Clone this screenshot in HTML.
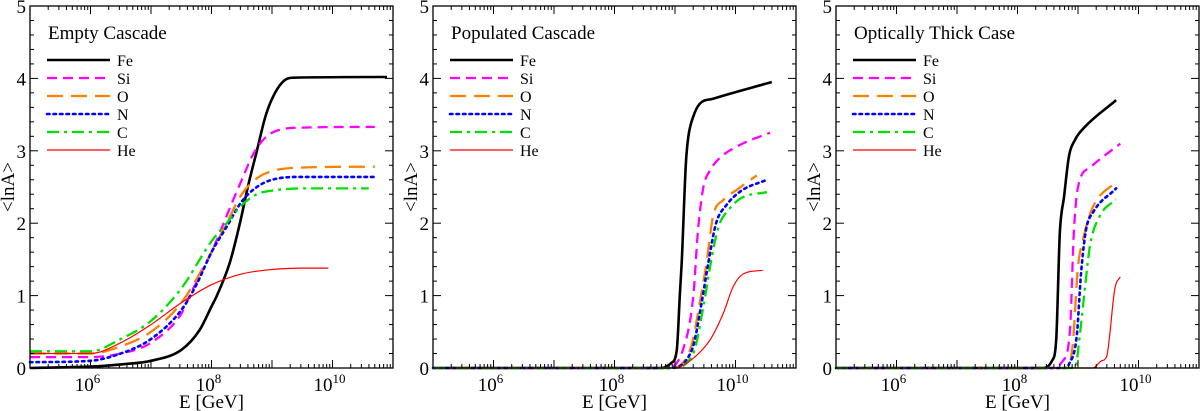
<!DOCTYPE html>
<html><head><meta charset="utf-8"><style>
body{margin:0;background:#fff;}
svg{display:block;font-family:"Liberation Serif",serif;}
</style></head><body>
<svg id="chart" width="1200" height="411" viewBox="0 0 1200 411" xmlns="http://www.w3.org/2000/svg"></svg>
<script>
// ---- data (x = log10 E[GeV], y = <lnA>) ----
const titles = ["Empty Cascade", "Populated Cascade", "Optically Thick Case"];
const species = ["Fe", "Si", "O", "N", "C", "He"];
const yTicks = [0, 1, 2, 3, 4, 5];
const xTickExps = [6, 8, 10];

const emptyFeX = [5, 6, 6.5, 7, 7.5, 7.8, 8, 8.09, 8.3, 8.47, 8.6, 8.75, 8.9, 9.05, 9.2, 9.35, 10.9];
const emptyFeY = [0, 0.02, 0.05, 0.1, 0.25, 0.52, 0.85, 1.0, 1.45, 2.0, 2.5, 3.0, 3.5, 3.8, 3.97, 4.01, 4.02];
const emptySiX = [5, 6, 6.5, 7, 7.5, 7.64, 8, 8.2, 8.5, 8.72, 9, 9.5, 10.7];
const emptySiY = [0.15, 0.15, 0.2, 0.35, 0.75, 1.0, 1.6, 2.0, 2.6, 3.0, 3.25, 3.32, 3.33];
const emptyOX = [5, 6, 6.5, 7, 7.5, 8, 8.25, 8.5, 8.75, 9, 9.5, 10.7];
const emptyOY = [0.2, 0.2, 0.3, 0.5, 0.9, 1.6, 2.0, 2.4, 2.62, 2.72, 2.77, 2.78];
const emptyNX = [5, 6, 6.5, 7, 7.5, 7.75, 8, 8.25, 8.5, 8.75, 9, 9.5, 10.7];
const emptyNY = [0.08, 0.1, 0.2, 0.4, 0.8, 1.15, 1.6, 1.95, 2.3, 2.5, 2.6, 2.64, 2.64];
const emptyCX = [5, 6, 6.5, 7, 7.5, 8, 8.25, 8.5, 8.75, 9, 9.5, 10.6];
const emptyCY = [0.23, 0.23, 0.4, 0.65, 1.1, 1.75, 2.0, 2.25, 2.4, 2.45, 2.48, 2.48];
const emptyHeX = [5, 6, 6.5, 7, 7.5, 8, 8.5, 9, 9.5, 9.93];
const emptyHeY = [0.2, 0.2, 0.35, 0.6, 0.9, 1.15, 1.3, 1.36, 1.38, 1.38];

const popFeX = [5, 8.75, 8.94, 9.03, 9.08, 9.11, 9.18, 9.22, 9.3, 9.41, 9.63, 10.6];
const popFeY = [0, 0, 0.07, 0.25, 1.0, 1.45, 2.83, 3.19, 3.47, 3.65, 3.72, 3.95];
const popSiX = [5, 8.85, 9.13, 9.3, 9.38, 9.47, 9.58, 9.74, 10.07, 10.57];
const popSiY = [0, 0, 0.25, 0.98, 1.9, 2.5, 2.73, 2.9, 3.08, 3.25];
const popOX = [5, 8.9, 9.25, 9.41, 9.52, 9.63, 9.8, 10.02, 10.35];
const popOY = [0, 0, 0.25, 0.9, 1.45, 2.1, 2.32, 2.46, 2.66];
const popNX = [5, 8.9, 9.28, 9.44, 9.55, 9.68, 9.85, 10.1, 10.52];
const popNY = [0, 0, 0.25, 0.9, 1.45, 2.0, 2.25, 2.45, 2.6];
const popCX = [5, 8.95, 9.3, 9.47, 9.58, 9.72, 9.9, 10.1, 10.52];
const popCY = [0, 0, 0.2, 0.85, 1.4, 1.95, 2.2, 2.35, 2.43];
const popHeX = [5, 9.0, 9.25, 9.58, 9.8, 9.96, 10.13, 10.45];
const popHeY = [0, 0, 0.1, 0.39, 0.76, 1.12, 1.3, 1.35];

const thickFeX = [5, 8.42, 8.57, 8.64, 8.7, 8.77, 8.85, 8.95, 9.08, 9.63];
const thickFeY = [0, 0, 0.1, 0.39, 1.86, 2.37, 2.92, 3.15, 3.3, 3.7];
const thickSiX = [5, 8.55, 8.75, 8.87, 8.93, 9.0, 9.2, 9.7];
const thickSiY = [0, 0, 0.1, 0.55, 1.86, 2.5, 2.77, 3.1];
const thickOX = [5, 8.8, 8.91, 9.0, 9.08, 9.15, 9.28, 9.63];
const thickOY = [0, 0, 0.3, 1.4, 1.76, 2.0, 2.28, 2.57];
const thickNX = [5, 8.8, 8.85, 8.98, 9.05, 9.13, 9.25, 9.63];
const thickNY = [0, 0, 0.05, 0.45, 1.3, 1.9, 2.15, 2.48];
const thickCX = [5, 8.95, 9.03, 9.12, 9.2, 9.36, 9.63];
const thickCY = [0, 0, 0.45, 1.15, 1.7, 2.1, 2.33];
const thickHeX = [5, 9.25, 9.39, 9.47, 9.61, 9.7];
const thickHeY = [0, 0, 0.1, 0.15, 1.1, 1.26];

const panelData = [
  [[emptyFeX, emptyFeY], [emptySiX, emptySiY], [emptyOX, emptyOY], [emptyNX, emptyNY], [emptyCX, emptyCY], [emptyHeX, emptyHeY]],
  [[popFeX, popFeY], [popSiX, popSiY], [popOX, popOY], [popNX, popNY], [popCX, popCY], [popHeX, popHeY]],
  [[thickFeX, thickFeY], [thickSiX, thickSiY], [thickOX, thickOY], [thickNX, thickNY], [thickCX, thickCY], [thickHeX, thickHeY]]
];

// ---- styles ----
const styles = [
  {c: "#000", w: 2.6, d: ""},
  {c: "#ff00ff", w: 2.3, d: "10,6"},
  {c: "#ff8000", w: 2.3, d: "16,8"},
  {c: "#0000ff", w: 2.6, d: "2.5,4"},
  {c: "#00e000", w: 2.3, d: "12,5,3,5"},
  {c: "#ff0000", w: 1.2, d: ""}
];
const NS = "http://www.w3.org/2000/svg";
const svg = document.getElementById("chart");
const panelLefts = [30, 433, 836];
const PW = 363, TOP = 6, BOT = 368;
const XMIN = 5, XMAX = 11, YMAX = 5;

function mk(tag, attrs, parent) {
  const e = document.createElementNS(NS, tag);
  for (const k in attrs) e.setAttribute(k, attrs[k]);
  parent.appendChild(e);
  return e;
}

// monotone cubic path through screen points
function smoothPath(px, py) {
  const n = px.length;
  if (n < 3) return "M" + px.map((x, i) => x.toFixed(1) + "," + py[i].toFixed(1)).join("L");
  const d = [], m = new Array(n);
  for (let i = 0; i < n - 1; i++) d.push((py[i + 1] - py[i]) / (px[i + 1] - px[i]));
  m[0] = d[0]; m[n - 1] = d[n - 2];
  for (let i = 1; i < n - 1; i++) m[i] = (d[i - 1] * d[i] <= 0) ? 0 : (d[i - 1] + d[i]) / 2;
  for (let i = 0; i < n - 1; i++) {
    if (d[i] === 0) { m[i] = 0; m[i + 1] = 0; continue; }
    const a = m[i] / d[i], b = m[i + 1] / d[i], s = a * a + b * b;
    if (s > 9) { const t = 3 / Math.sqrt(s); m[i] = t * a * d[i]; m[i + 1] = t * b * d[i]; }
  }
  let p = "M" + px[0].toFixed(1) + "," + py[0].toFixed(1);
  for (let i = 0; i < n - 1; i++) {
    const h = (px[i + 1] - px[i]) / 3;
    p += "C" + (px[i] + h).toFixed(1) + "," + (py[i] + m[i] * h).toFixed(1) + " " +
      (px[i + 1] - h).toFixed(1) + "," + (py[i + 1] - m[i + 1] * h).toFixed(1) + " " +
      px[i + 1].toFixed(1) + "," + py[i + 1].toFixed(1);
  }
  return p;
}

panelLefts.forEach((L, p) => {
  const sx = v => L + (v - XMIN) / (XMAX - XMIN) * PW;
  const sy = v => BOT - v / YMAX * (BOT - TOP);
  const g = mk("g", {}, svg);
  
  

  // series
  panelData[p].forEach((s, i) => {
    const st = styles[i];
    const pl = mk("path", {d: smoothPath(s[0].map(sx), s[1].map(sy)), fill: "none", stroke: st.c, "stroke-width": st.w, "stroke-linejoin": "round", "stroke-linecap": i === 3 ? "round" : "butt"}, g);
    if (st.d) pl.setAttribute("stroke-dasharray", st.d);
    
    
  });

  // frame
  const fr = mk("rect", {x: L, y: TOP, width: PW, height: BOT - TOP, fill: "none", stroke: "#000", "stroke-width": 1.3}, g);
  
  

  // x ticks
  for (let e = XMIN; e < XMAX; e++) {
    for (let m = 1; m < 10; m++) {
      const v = e + Math.log10(m);
      const x = sx(v);
      const len = m === 1 ? 8 : 4;
      if (v <= XMIN) continue;
      mk("line", {x1: x, y1: BOT, x2: x, y2: BOT - len, stroke: "#000", "stroke-width": 1}, g);
      mk("line", {x1: x, y1: TOP, x2: x, y2: TOP + len, stroke: "#000", "stroke-width": 1}, g);
    }
  }
  xTickExps.forEach(e => {
    const t = mk("text", {x: sx(e) - 3, y: 391, "font-size": 19, "text-anchor": "middle", fill: "#000"}, g);
    
    
    t.appendChild(document.createTextNode("10"));
    const sup = mk("tspan", {dy: -8, "font-size": 13}, t);
    sup.textContent = e;
  });
  // y ticks
  for (let k = 1; k < 25; k++) {
    const v = k * 0.2;
    const y = sy(v);
    const len = k % 5 === 0 ? 8 : 4;
    mk("line", {x1: L, y1: y, x2: L + len, y2: y, stroke: "#000", "stroke-width": 1}, g);
    mk("line", {x1: L + PW, y1: y, x2: L + PW - len, y2: y, stroke: "#000", "stroke-width": 1}, g);
  }
  yTicks.forEach(v => {
    const t = mk("text", {x: L - 4, y: sy(v) + 7, "font-size": 19, "text-anchor": "end", fill: "#000"}, g);
    t.textContent = v;
    
    
  });

  // axis titles
  const xt = mk("text", {x: L + PW / 2, y: 408, "font-size": 19, "text-anchor": "middle", fill: "#000"}, g);
  xt.textContent = "E [GeV]";
  
  
  const yt = mk("text", {x: 0, y: 0, "font-size": 19, "text-anchor": "middle", fill: "#000", transform: "translate(" + (L - 16) + "," + 187 + ") rotate(-90)"}, g);
  yt.textContent = "<lnA>";
  
  

  // title
  const tt = mk("text", {x: L + 18, y: 39, "font-size": 19, fill: "#000"}, g);
  tt.textContent = titles[p];
  
  

  // legend
  const lg = mk("g", {}, g);
  
  
  species.forEach((sp, i) => {
    const y = 60 + i * 18;
    const st = styles[i];
    const ln = mk("line", {x1: L + 17, y1: y, x2: L + 80, y2: y, stroke: st.c, "stroke-width": st.w, "stroke-linecap": i === 3 ? "round" : "butt"}, lg);
    if (st.d) ln.setAttribute("stroke-dasharray", st.d);
    
    
    const lt = mk("text", {x: L + 87, y: y + 6, "font-size": 16, fill: "#000"}, lg);
    lt.textContent = sp;
    
    
  });
});
</script>
</body></html>
